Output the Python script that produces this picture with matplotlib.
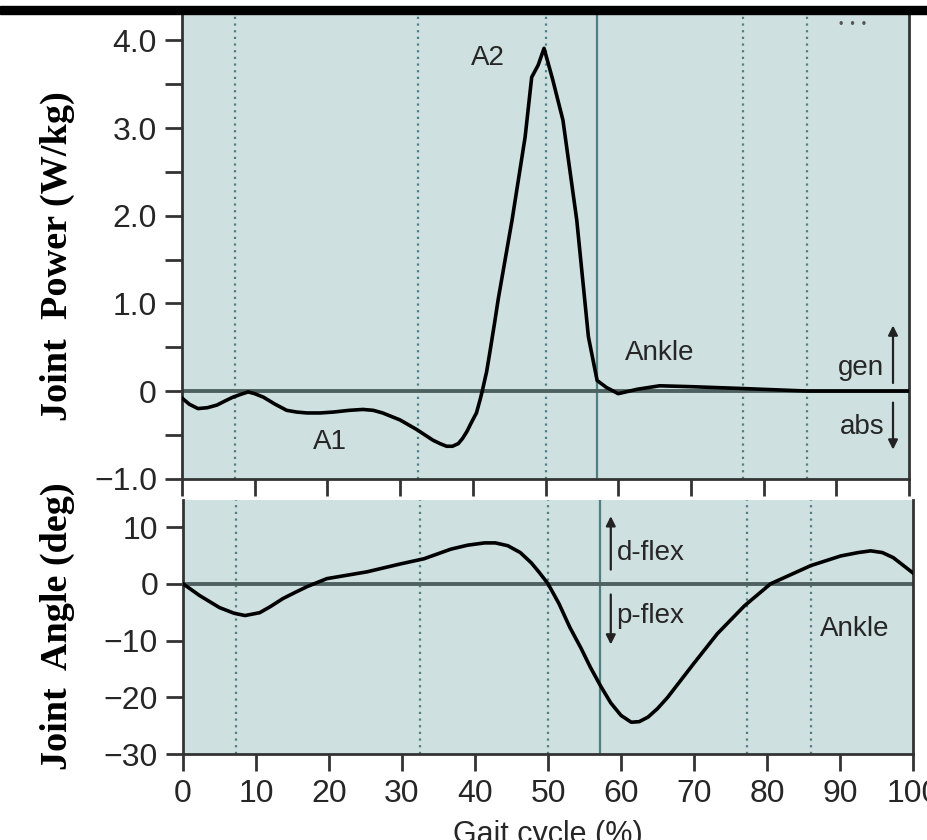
# Ankle joint power and angle over the gait cycle
import numpy as np
import matplotlib
matplotlib.use('Agg')
from matplotlib import pyplot as plt

# joint power (W/kg) vs gait cycle (%)
power_x = [0, 1.0, 2.2, 3.5, 4.8, 6.0, 7.0, 8.0, 9.1, 10.0, 11.2, 12.8, 14.4, 15.8,
           17.2, 19.0, 20.8, 23.0, 24.9, 26.3, 27.6, 30.0, 32.3, 34.5, 35.5, 36.4,
           37.2, 38.0, 38.6, 39.2, 39.8, 40.5, 41.0, 41.3, 41.9, 42.4, 43.0, 43.5,
           45.4, 47.2, 48.1, 49.0, 49.8, 51.0, 52.4, 54.3, 55.9, 57.1, 58.4, 60.0,
           62.6, 65.7, 70.0, 76.7, 86.0, 100]
power_y = [-0.08, -0.15, -0.20, -0.19, -0.16, -0.11, -0.07, -0.04, -0.01, -0.03,
           -0.07, -0.15, -0.22, -0.24, -0.25, -0.25, -0.24, -0.22, -0.21, -0.22,
           -0.25, -0.33, -0.44, -0.56, -0.60, -0.63, -0.63, -0.60, -0.54, -0.46,
           -0.36, -0.25, -0.10, 0.0, 0.22, 0.47, 0.78, 1.05, 1.95, 2.90, 3.58, 3.72,
           3.91, 3.55, 3.09, 1.95, 0.62, 0.12, 0.04, -0.03, 0.02, 0.06, 0.05, 0.03,
           0.0, 0.0]

# joint angle (deg) vs gait cycle (%)
angle_x = [0, 2.3, 5.0, 7.0, 8.5, 10.5, 12.0, 13.7, 15.4, 17.0, 19.7, 25.2, 29.8,
           33.0, 36.7, 39.0, 41.3, 42.8, 44.5, 46.2, 47.7, 48.8, 50.0, 51.5, 53.0,
           54.5, 55.8, 57.2, 58.6, 60.0, 61.4, 62.5, 63.7, 65.0, 66.4, 68.2, 70.0,
           73.2, 76.9, 80.5, 86.0, 90.1, 92.5, 94.2, 95.8, 97.3, 100]
angle_y = [0, -2.1, -4.2, -5.2, -5.6, -5.1, -4.0, -2.6, -1.5, -0.5, 0.9, 2.1, 3.5,
           4.4, 6.1, 6.8, 7.2, 7.2, 6.7, 5.5, 3.7, 2.0, 0.0, -3.5, -7.7, -11.3,
           -14.7, -18.0, -21.0, -23.2, -24.4, -24.3, -23.5, -22.0, -20.0, -17.0,
           -14.0, -8.8, -3.9, 0.0, 3.2, 4.9, 5.5, 5.8, 5.5, 4.6, 1.9]

# event lines (% gait cycle)
dotted_events = [7.3, 32.5, 50.0, 77.2, 86.0]
toe_off = 57.1

power_ticks = [-1.0, 0, 1.0, 2.0, 3.0, 4.0]
power_labels = ['\u22121.0', '0', '1.0', '2.0', '3.0', '4.0']
angle_ticks = [-30, -20, -10, 0, 10]
angle_labels = ['\u221230', '\u221220', '\u221210', '0', '10']
x_ticks = [0, 10, 20, 30, 40, 50, 60, 70, 80, 90, 100]

W, H = 927, 840
bg = '#cfe0e0'
zero_col = '#4e6161'
ev_col = '#4f7f80'
txt_col = '#262626'
sans = ['Liberation Sans Narrow', 'Liberation Sans', 'DejaVu Sans']
plt.rcParams['font.family'] = sans

fig = plt.figure(figsize=(W / 100, H / 100), dpi=100)
fig.patch.set_facecolor('white')

# black bar at the top
fig.add_artist(plt.Rectangle((0, 1 - 14 / H), 1, 8 / H, transform=fig.transFigure,
                             color='black', zorder=5))


def style(ax):
    ax.set_facecolor(bg)
    ax.spines['top'].set_visible(False)
    for s in ['left', 'bottom', 'right']:
        ax.spines[s].set_color('#333333')
        ax.spines[s].set_linewidth(2)
    ax.tick_params(direction='out', length=12, width=2, color='#333333',
                   labelsize=23, labelcolor=txt_col, pad=6)
    ax.tick_params(axis='y', which='minor', direction='out', length=12, width=2,
                   color='#333333')
    ax.set_xlim(0, 100)
    ax.set_xticks(x_ticks)
    for e in dotted_events:
        ax.axvline(e, color=ev_col, linestyle=(0, (1, 2)), linewidth=1.6, zorder=1)
    ax.axvline(toe_off, color=ev_col, linewidth=1.6, zorder=1)
    ax.axhline(0, color=zero_col, linewidth=2.8, zorder=2)


# top panel: joint power
ax1 = fig.add_axes([182 / W, 1 - 478.7 / H, 727 / W, 463.7 / H])
style(ax1)
ax1.plot(power_x, power_y, color='black', linewidth=2.6, zorder=3,
         solid_joinstyle='round')
ax1.set_ylim(-1.0, 4.29)
ax1.set_yticks(power_ticks)
ax1.set_yticklabels(power_labels)
ax1.set_yticks(np.arange(-0.5, 4.0, 1.0), minor=True)
ax1.set_xticklabels([])
ax1.text(42.1, 3.8, 'A2', fontsize=20, color=txt_col, ha='center', va='center')
ax1.text(20.4, -0.58, 'A1', fontsize=20, color=txt_col, ha='center', va='center')
ax1.text(65.7, 0.43, 'Ankle', fontsize=20, color=txt_col, ha='center', va='center')
ax1.text(96.6, 0.26, 'gen', fontsize=20, color=txt_col, ha='right', va='center')
ax1.text(96.6, -0.41, 'abs', fontsize=20, color=txt_col, ha='right', va='center')
ax1.annotate('', xy=(97.8, 0.78), xytext=(97.8, 0.06),
             arrowprops=dict(arrowstyle='-|>', color='#222222', lw=1.6,
                             mutation_scale=14))
ax1.annotate('', xy=(97.8, -0.7), xytext=(97.8, -0.1),
             arrowprops=dict(arrowstyle='-|>', color='#222222', lw=1.6,
                             mutation_scale=14))
ax1.text(92.2, 4.18, '\u2022  \u2022  \u2022', fontsize=9, color='#555555',
         ha='center', va='center')

# bottom panel: joint angle
ax2 = fig.add_axes([183 / W, 1 - 754 / H, 730 / W, 254 / H])
style(ax2)
ax2.plot(angle_x, angle_y, color='black', linewidth=2.6, zorder=3,
         solid_joinstyle='round')
ax2.set_ylim(-30, 14.76)
ax2.set_yticks(angle_ticks)
ax2.set_yticklabels(angle_labels)
ax2.set_xticklabels([str(t) for t in x_ticks])
ax2.set_xlabel('Gait cycle (%)', fontsize=22, color=txt_col, labelpad=8)
ax2.text(59.4, 5.5, 'd-flex', fontsize=20, color=txt_col, ha='left', va='center')
ax2.text(59.4, -5.6, 'p-flex', fontsize=20, color=txt_col, ha='left', va='center')
ax2.text(87.3, -7.9, 'Ankle', fontsize=20, color=txt_col, ha='left', va='center')
ax2.annotate('', xy=(58.6, 12.4), xytext=(58.6, 2.0),
             arrowprops=dict(arrowstyle='-|>', color='#222222', lw=1.6,
                             mutation_scale=14))
ax2.annotate('', xy=(58.6, -11.2), xytext=(58.6, -1.4),
             arrowprops=dict(arrowstyle='-|>', color='#222222', lw=1.6,
                             mutation_scale=14))

# bold serif axis titles on the left
serif = ['Liberation Serif', 'DejaVu Serif']
fig.text(57 / W, 1 - 256 / H, 'Joint  Power (W/kg)', rotation=90, fontsize=27.5,
         fontweight='bold', family=serif, ha='center', va='center')
fig.text(57 / W, 1 - 626 / H, 'Joint  Angle (deg)', rotation=90, fontsize=27.5,
         fontweight='bold', family=serif, ha='center', va='center')

fig.savefig('out.png', dpi=100)
